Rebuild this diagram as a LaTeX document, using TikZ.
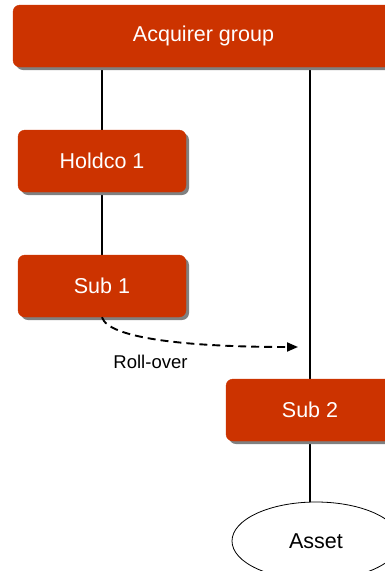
\documentclass[tikz,border=0pt]{standalone}
\usepackage{fontspec}
\setmainfont{Liberation Sans}
\usetikzlibrary{shadows,arrows.meta,shapes.geometric,backgrounds}
\definecolor{boxred}{RGB}{204,51,0}
\definecolor{shadowgray}{RGB}{128,128,128}
\tikzset{
  entity/.style={rectangle, rounded corners=7pt, fill=boxred, draw=boxred,
    text=white, minimum height=62pt, inner sep=0pt,
    font=\fontsize{21.5}{26}\selectfont,
    drop shadow={shadow xshift=3pt, shadow yshift=-3pt, fill=shadowgray, opacity=1}},
  assetnode/.style={ellipse, draw=black, line width=0.8pt, fill=white,
    minimum width=168pt, minimum height=78pt, inner sep=0pt,
    font=\fontsize{21.5}{26}\selectfont},
  link/.style={draw=black, line width=1.8pt},
  rollover/.style={draw=black, line width=1.9pt, dash pattern=on 8pt off 5pt,
    -{Triangle[length=11pt,width=9pt]}},
}
\begin{document}
\begin{tikzpicture}[x=1pt,y=-1pt]
  \useasboundingbox (0,0) rectangle (385,571);
  \clip (0,0) rectangle (385,571);

  \node[entity, minimum width=381pt] (acq) at (203.5,36) {Acquirer group};
  \node[entity, minimum width=168pt] (holdco) at (102,161) {Holdco 1};
  \node[entity, minimum width=168pt] (sub1) at (102,286) {Sub 1};
  \node[entity, minimum width=168pt] (sub2) at (310,410) {Sub 2};
  \node[assetnode] (asset) at (316,541) {Asset};

  % ownership lines, kept behind the boxes
  \begin{pgfonlayer}{background}
    \draw[link] (holdco.north |- acq.south) -- (holdco.north);
    \draw[link] (holdco.south) -- (sub1.north);
    \draw[link] (sub2.north |- acq.south) -- (sub2.north);
    \draw[link] (sub2.south) -- (sub2.south |- asset.north);
  \end{pgfonlayer}

  % roll-over of Sub 1 into the acquirer chain
  \coordinate (rolltip) at (298,347);
  \draw[rollover] (sub1.south) .. controls (108,338) and (185,347) .. (rolltip);
  \node[font=\fontsize{18.5}{22}\selectfont] (rolllabel) at (150.5,362) {Roll-over};
\end{tikzpicture}
\end{document}
